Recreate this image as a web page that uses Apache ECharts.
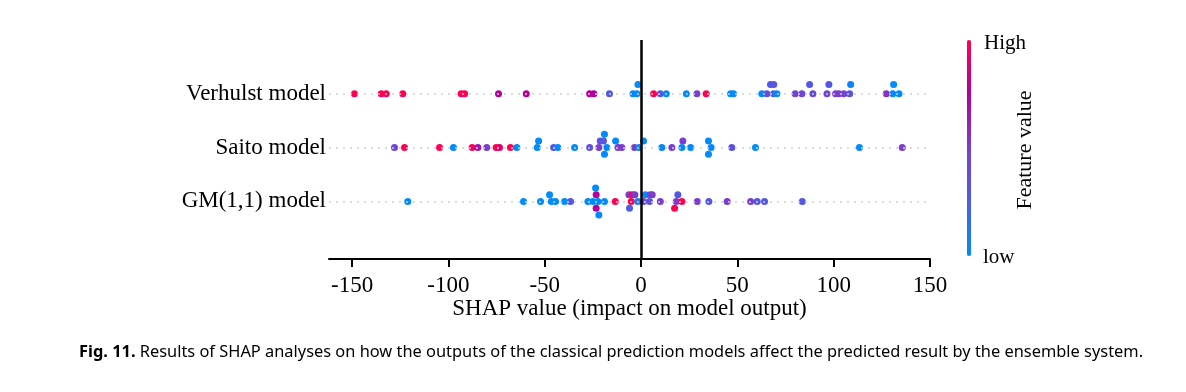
<!DOCTYPE html>
<html>
<head>
<meta charset="utf-8">
<script src="https://cdn.jsdelivr.net/npm/echarts@6/dist/echarts.min.js"></script>
<style>
html,body{margin:0;padding:0;background:#fff;}
#c{width:1186px;height:392px;}
</style>
</head>
<body>
<div id="c"></div>
<script>
// Row labels (y = 1, 2, 3 from bottom)
const categories = ['GM(1,1) model', 'Saito model', 'Verhulst model'];
const xTicks = [-150, -100, -50, 0, 50, 100, 150];

// Verhulst model: SHAP value, feature value (0 low .. 1 high), stack level
const verhulstShap = [-148.8,-134.9,-132.3,-123.7,-93.4,-91.6,-74.0,-59.6,-26.7,-24.5,-16.4,-4.2,-2.2,-1.6,6.5,10.0,13.1,23.5,29.0,33.8,46.5,48.0,62.7,65.3,67.2,68.9,68.8,70.5,80.0,83.5,87.5,89.2,96.5,97.5,101.0,102.7,105.3,108.3,108.8,127.3,130.7,131.1,133.9];
const verhulstFeat = [1,1,1,1,1,1,0.75,0.75,0.75,0.75,0.3,0,0,0,1,0.3,0,0,0.5,1,0,0,0,0.35,0.3,0.3,0.3,0,0.45,0.45,0.3,0.4,0.45,0.3,0.5,0.5,0.45,0.35,0.05,0.55,0,0,0];
const verhulstStack = [0,0,0,0,0,0,0,0,0,0,0,0,0,1.4,0,0,0,0,0,0,0,0,0,0,1.4,1.4,0,0,0,0,1.4,0,0,1.4,0,0,0,0,1.4,0,0,1.4,0];

// Saito model
const saitoShap = [-128.0,-122.8,-104.6,-97.4,-87.7,-84.7,-80.1,-75.2,-73.5,-67.8,-64.5,-53.9,-53.2,-45.4,-43.2,-34.5,-26.7,-21.9,-21.2,-19.5,-19.0,-17.8,-19.0,-13.2,-12.0,-10.0,-3.4,-1.1,1.3,10.8,16.0,21.7,21.2,25.7,35.0,36.4,35.0,47.1,59.4,113.4,135.6];
const saitoFeat = [0.45,1,1,0,1,0.65,0.5,1,0.9,1,0,0,0,0.3,0,0,0.35,0.5,0.35,0.3,0,0,0,0,0.5,0.5,0.5,0,0,0,0.5,0.5,0,0,0,0,0,0.35,0,0,0.5];
const saitoStack = [0,0,0,0,0,0,0,0,0,0,0,0,1,0,0,0,0,0,1,1,2,0,-1,1,0,0,0,0,1,0,0,1,0,0,1,0,-1,0,0,0,0];

// GM(1,1) model
const gmShap = [-121.1,-61.0,-52.2,-47.5,-46.6,-44.4,-39.7,-36.6,-27.6,-25.0,-23.6,-23.3,-22.4,-23.3,-21.9,-19.0,-13.4,-6.3,-4.6,-3.2,-5.1,-6.0,-1.7,1.3,2.3,4.4,4.8,5.8,10.0,18.3,19.1,21.2,17.4,29.2,35.2,44.7,56.9,60.3,64.1,83.7];
const gmFeat = [0,0,0,0,0,0,0,0.3,0,0,0,0.75,0,0.75,0,0,1,0.5,1,0.5,1,0.25,0.1,0.45,0,0.35,0.5,0.5,0.5,0.5,0.3,1,1,0.5,0.3,0.5,0.5,0.3,0.3,0.3];
const gmStack = [0,0,0,1,0,0,0,0,0,0,2,1,0,-1,-2,0,0,1,1,1,0,-1,0,0,1,0,1,1,0,0,1,0,-1,0,0,0,0,0,0,0];

const rows = [
  {row: 3, shap: verhulstShap, feat: verhulstFeat, stack: verhulstStack},
  {row: 2, shap: saitoShap, feat: saitoFeat, stack: saitoStack},
  {row: 1, shap: gmShap, feat: gmFeat, stack: gmStack}
];
const STACK_STEP = 0.125;
const points = [];
rows.forEach(r => {
  r.shap.forEach((v, i) => {
    points.push([v, r.row + r.stack[i] * STACK_STEP, r.feat[i]]);
  });
});

const serif = "'Liberation Serif', 'Times New Roman', serif";
const chart = echarts.init(document.getElementById('c'), null, {renderer: 'canvas'});
chart.setOption({
  backgroundColor: '#fff',
  animation: false,
  title: {
    text: '{b|Fig. 11.} Results of SHAP analyses on how the outputs of the classical prediction models affect the predicted result by the ensemble system.',
    left: 74,
    top: 339,
    textStyle: {
      fontFamily: "'Noto Sans', sans-serif",
      fontSize: 16.4,
      fontWeight: 'normal',
      color: '#000',
      rich: {
        b: {fontFamily: "'Noto Sans', sans-serif", fontSize: 16.4, fontWeight: 'bold', color: '#000'}
      }
    }
  },
  grid: {left: 329, right: 256, top: 40, bottom: 133},
  xAxis: {
    type: 'value',
    min: -162,
    max: 150,
    name: 'SHAP value (impact on model output)',
    nameLocation: 'middle',
    nameGap: 38,
    nameMoveOverlap: false,
    nameTextStyle: {fontFamily: serif, fontSize: 23, color: '#000'},
    axisLine: {show: true, onZero: false, lineStyle: {color: '#000', width: 2}},
    axisTick: {show: true, length: 8, lineStyle: {color: '#000', width: 2}, customValues: xTicks},
    axisLabel: {fontFamily: serif, fontSize: 23, color: '#000', margin: 15, customValues: xTicks},
    splitLine: {show: false}
  },
  yAxis: {
    type: 'value',
    min: -0.07,
    max: 4,
    axisLine: {show: false},
    axisTick: {show: false},
    splitLine: {show: false},
    axisLabel: {
      fontFamily: serif, fontSize: 23, color: '#000', margin: 3,
      customValues: [1, 2, 3],
      formatter: v => categories[Math.round(v) - 1] || ''
    }
  },
  visualMap: {
    type: 'continuous',
    min: 0,
    max: 1,
    dimension: 2,
    left: 952,
    top: 25,
    itemWidth: 4,
    itemHeight: 216,
    calculable: false,
    hoverLink: false,
    showLabel: false,
    text: null,
    inRange: {color: ['#008bfb', '#4a5ee8', '#7c3dcc', '#b3009b', '#ff0052']}
  },
  graphic: [
    {type: 'text', left: 984, top: 33, style: {text: 'High', font: "21px " + serif, fill: '#000'}},
    {type: 'text', left: 983, top: 247, style: {text: 'low', font: "21px " + serif, fill: '#000'}},
    {type: 'text', x: 1025, y: 150, rotation: Math.PI / 2,
     style: {text: 'Feature value', font: "22px " + serif, fill: '#000', textAlign: 'center', textVerticalAlign: 'middle'}}
  ],
  series: [{
    type: 'scatter',
    data: points,
    symbolSize: 7,
    itemStyle: {opacity: 1},
    markLine: {
      silent: true,
      symbol: 'none',
      label: {show: false},
      data: [
        {yAxis: 1, lineStyle: {type: [2, 5], color: '#d0d0d0', width: 1.5}},
        {yAxis: 2, lineStyle: {type: [2, 5], color: '#d0d0d0', width: 1.5}},
        {yAxis: 3, lineStyle: {type: [2, 5], color: '#d0d0d0', width: 1.5}},
        {xAxis: 0, lineStyle: {type: 'solid', color: '#000', width: 2.5}}
      ]
    },
    z: 3
  }]
});
</script>
</body>
</html>
